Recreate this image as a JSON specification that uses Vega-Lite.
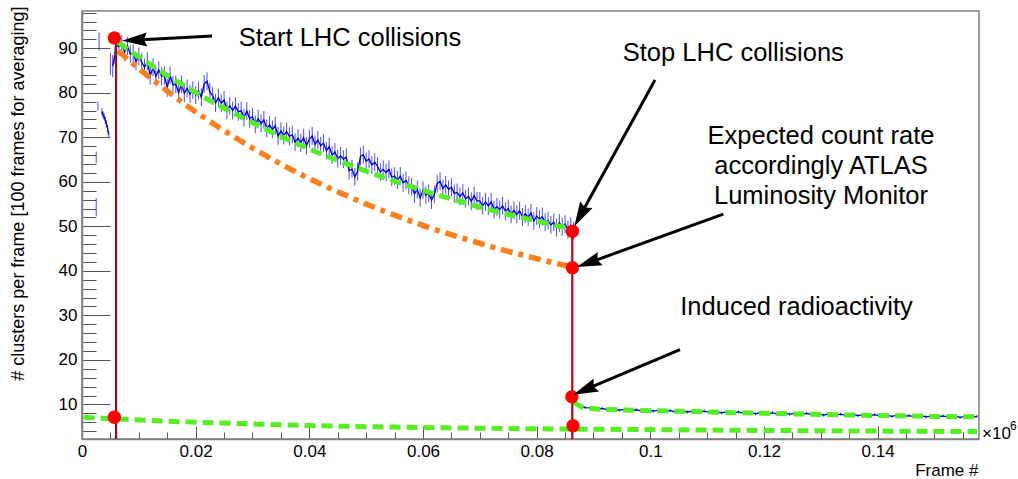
{
  "$schema": "https://vega.github.io/schema/vega-lite/v6.json",
  "width": 897,
  "height": 428,
  "autosize": {"type": "none"},
  "padding": {"left": 82, "top": 11, "right": 39, "bottom": 40},
  "config": {
    "font": "Liberation Sans",
    "view": {"stroke": "#808080", "strokeWidth": 1.5},
    "axis": {"grid": false, "domainColor": "#808080", "domainWidth": 1.5, "tickColor": "#555555", "tickWidth": 1, "labelColor": "#000000", "labelFontSize": 17, "titleFontSize": 18, "titleFontWeight": "normal", "titleColor": "#000000", "labelFlush": false, "labelOverlap": false, "labelBound": false}
  },
  "datasets": {
    "blue": [
      {"x":0.0025,"y":65.5,"e":1.3,"s":"a"},
      {"x":0.0025,"y":54.3,"e":2.0,"s":"b"},
      {"x":0.0030,"y":91.5,"e":2.0,"s":"c"},
      {"x":0.0028,"y":77.0,"e":1.0,"s":"d"},
      {"x":0.0035,"y":75.8,"e":0.8,"s":"e"},
      {"x":0.0037,"y":75.0,"e":0.8,"s":"e"},
      {"x":0.0039,"y":74.6,"e":0.8,"s":"e"},
      {"x":0.0041,"y":73.8,"e":0.8,"s":"e"},
      {"x":0.0043,"y":73.0,"e":0.8,"s":"e"},
      {"x":0.0045,"y":72.0,"e":0.8,"s":"e"},
      {"x":0.0047,"y":70.6,"e":0.8,"s":"e"},
      {"x":0.0050,"y":86.5,"e":2.5,"s":"f"},
      {"x":0.0054,"y":86.0,"e":2.5,"s":"m"},
      {"x":0.0058,"y":88.5,"e":2.0,"s":"m"},
      {"x":0.0060,"y":90.6,"e":2.0,"s":"m"},
      {"x":0.0065,"y":90.4,"e":2.0,"s":"m"},
      {"x":0.0070,"y":91.0,"e":2.0,"s":"m"},
      {"x":0.0075,"y":89.1,"e":2.0,"s":"m"},
      {"x":0.0080,"y":90.5,"e":2.0,"s":"m"},
      {"x":0.0085,"y":88.7,"e":2.0,"s":"m"},
      {"x":0.0090,"y":88.9,"e":2.0,"s":"m"},
      {"x":0.0095,"y":87.0,"e":2.0,"s":"m"},
      {"x":0.0100,"y":88.2,"e":2.0,"s":"m"},
      {"x":0.0105,"y":86.9,"e":2.0,"s":"m"},
      {"x":0.0110,"y":85.7,"e":2.0,"s":"m"},
      {"x":0.0115,"y":87.1,"e":2.0,"s":"m"},
      {"x":0.0120,"y":83.8,"e":2.0,"s":"m"},
      {"x":0.0125,"y":85.7,"e":2.0,"s":"m"},
      {"x":0.0130,"y":83.7,"e":2.0,"s":"m"},
      {"x":0.0135,"y":85.1,"e":2.0,"s":"m"},
      {"x":0.0140,"y":83.7,"e":2.0,"s":"m"},
      {"x":0.0145,"y":83.9,"e":2.0,"s":"m"},
      {"x":0.0150,"y":81.1,"e":2.0,"s":"m"},
      {"x":0.0155,"y":83.9,"e":2.0,"s":"m"},
      {"x":0.0160,"y":81.8,"e":2.0,"s":"m"},
      {"x":0.0165,"y":81.9,"e":2.0,"s":"m"},
      {"x":0.0170,"y":80.0,"e":2.0,"s":"m"},
      {"x":0.0175,"y":81.9,"e":2.0,"s":"m"},
      {"x":0.0180,"y":79.9,"e":2.0,"s":"m"},
      {"x":0.0185,"y":81.0,"e":2.0,"s":"m"},
      {"x":0.0190,"y":79.7,"e":2.0,"s":"m"},
      {"x":0.0195,"y":80.6,"e":2.0,"s":"m"},
      {"x":0.0200,"y":79.5,"e":2.0,"s":"m"},
      {"x":0.0205,"y":80.5,"e":2.0,"s":"m"},
      {"x":0.0210,"y":79.0,"e":2.0,"s":"m"},
      {"x":0.0215,"y":82.0,"e":2.0,"s":"m"},
      {"x":0.0220,"y":82.6,"e":2.0,"s":"m"},
      {"x":0.0225,"y":80.2,"e":2.0,"s":"m"},
      {"x":0.0230,"y":79.3,"e":2.0,"s":"m"},
      {"x":0.0235,"y":77.7,"e":2.0,"s":"m"},
      {"x":0.0240,"y":78.9,"e":2.0,"s":"m"},
      {"x":0.0245,"y":77.6,"e":2.0,"s":"m"},
      {"x":0.0250,"y":78.4,"e":2.0,"s":"m"},
      {"x":0.0255,"y":76.1,"e":2.0,"s":"m"},
      {"x":0.0260,"y":77.1,"e":2.0,"s":"m"},
      {"x":0.0265,"y":76.0,"e":2.0,"s":"m"},
      {"x":0.0270,"y":77.0,"e":2.0,"s":"m"},
      {"x":0.0275,"y":75.7,"e":2.0,"s":"m"},
      {"x":0.0280,"y":76.0,"e":2.0,"s":"m"},
      {"x":0.0285,"y":74.4,"e":2.0,"s":"m"},
      {"x":0.0290,"y":75.9,"e":2.0,"s":"m"},
      {"x":0.0295,"y":74.2,"e":2.0,"s":"m"},
      {"x":0.0300,"y":74.6,"e":2.0,"s":"m"},
      {"x":0.0305,"y":72.9,"e":2.0,"s":"m"},
      {"x":0.0310,"y":74.2,"e":2.0,"s":"m"},
      {"x":0.0315,"y":73.1,"e":2.0,"s":"m"},
      {"x":0.0320,"y":73.9,"e":2.0,"s":"m"},
      {"x":0.0325,"y":72.0,"e":2.0,"s":"m"},
      {"x":0.0330,"y":72.8,"e":2.0,"s":"m"},
      {"x":0.0335,"y":71.8,"e":2.0,"s":"m"},
      {"x":0.0340,"y":72.6,"e":2.0,"s":"m"},
      {"x":0.0345,"y":70.3,"e":2.0,"s":"m"},
      {"x":0.0350,"y":71.4,"e":2.0,"s":"m"},
      {"x":0.0355,"y":70.4,"e":2.0,"s":"m"},
      {"x":0.0360,"y":71.3,"e":2.0,"s":"m"},
      {"x":0.0365,"y":70.2,"e":2.0,"s":"m"},
      {"x":0.0370,"y":70.6,"e":2.0,"s":"m"},
      {"x":0.0375,"y":68.9,"e":2.0,"s":"m"},
      {"x":0.0380,"y":69.8,"e":2.0,"s":"m"},
      {"x":0.0385,"y":68.8,"e":2.0,"s":"m"},
      {"x":0.0390,"y":69.9,"e":2.0,"s":"m"},
      {"x":0.0395,"y":68.1,"e":2.0,"s":"m"},
      {"x":0.0400,"y":69.6,"e":2.0,"s":"m"},
      {"x":0.0405,"y":70.3,"e":2.0,"s":"m"},
      {"x":0.0410,"y":68.4,"e":2.0,"s":"m"},
      {"x":0.0415,"y":69.4,"e":2.0,"s":"m"},
      {"x":0.0420,"y":68.1,"e":2.0,"s":"m"},
      {"x":0.0425,"y":68.7,"e":2.0,"s":"m"},
      {"x":0.0430,"y":67.0,"e":2.0,"s":"m"},
      {"x":0.0435,"y":67.9,"e":2.0,"s":"m"},
      {"x":0.0440,"y":66.0,"e":2.0,"s":"m"},
      {"x":0.0445,"y":66.7,"e":2.0,"s":"m"},
      {"x":0.0450,"y":65.2,"e":2.0,"s":"m"},
      {"x":0.0455,"y":65.8,"e":2.0,"s":"m"},
      {"x":0.0460,"y":65.1,"e":2.0,"s":"m"},
      {"x":0.0465,"y":65.5,"e":2.0,"s":"m"},
      {"x":0.0470,"y":62.5,"e":2.0,"s":"m"},
      {"x":0.0475,"y":62.9,"e":2.0,"s":"m"},
      {"x":0.0480,"y":61.1,"e":2.0,"s":"m"},
      {"x":0.0485,"y":62.3,"e":2.0,"s":"m"},
      {"x":0.0490,"y":65.7,"e":2.0,"s":"m"},
      {"x":0.0495,"y":66.1,"e":2.0,"s":"m"},
      {"x":0.0500,"y":64.6,"e":2.0,"s":"m"},
      {"x":0.0505,"y":65.1,"e":2.0,"s":"m"},
      {"x":0.0510,"y":63.8,"e":2.0,"s":"m"},
      {"x":0.0515,"y":64.4,"e":2.0,"s":"m"},
      {"x":0.0520,"y":63.5,"e":2.0,"s":"m"},
      {"x":0.0525,"y":62.2,"e":2.0,"s":"m"},
      {"x":0.0530,"y":62.8,"e":2.0,"s":"m"},
      {"x":0.0535,"y":62.1,"e":2.0,"s":"m"},
      {"x":0.0540,"y":62.8,"e":2.0,"s":"m"},
      {"x":0.0545,"y":61.0,"e":2.0,"s":"m"},
      {"x":0.0550,"y":61.3,"e":2.0,"s":"m"},
      {"x":0.0555,"y":60.4,"e":2.0,"s":"m"},
      {"x":0.0560,"y":61.3,"e":2.0,"s":"m"},
      {"x":0.0565,"y":59.8,"e":2.0,"s":"m"},
      {"x":0.0570,"y":60.3,"e":2.0,"s":"m"},
      {"x":0.0575,"y":59.2,"e":2.0,"s":"m"},
      {"x":0.0580,"y":58.9,"e":2.0,"s":"m"},
      {"x":0.0585,"y":57.3,"e":2.0,"s":"m"},
      {"x":0.0590,"y":58.3,"e":2.0,"s":"m"},
      {"x":0.0595,"y":56.4,"e":2.0,"s":"m"},
      {"x":0.0600,"y":58.1,"e":2.0,"s":"m"},
      {"x":0.0605,"y":57.0,"e":2.0,"s":"m"},
      {"x":0.0610,"y":57.4,"e":2.0,"s":"m"},
      {"x":0.0615,"y":55.9,"e":2.0,"s":"m"},
      {"x":0.0620,"y":57.2,"e":2.0,"s":"m"},
      {"x":0.0625,"y":59.6,"e":2.0,"s":"m"},
      {"x":0.0630,"y":60.1,"e":2.0,"s":"m"},
      {"x":0.0635,"y":58.5,"e":2.0,"s":"m"},
      {"x":0.0640,"y":59.3,"e":2.0,"s":"m"},
      {"x":0.0645,"y":58.3,"e":2.0,"s":"m"},
      {"x":0.0650,"y":58.8,"e":2.0,"s":"m"},
      {"x":0.0655,"y":57.4,"e":2.0,"s":"m"},
      {"x":0.0660,"y":57.6,"e":2.0,"s":"m"},
      {"x":0.0665,"y":56.7,"e":2.0,"s":"m"},
      {"x":0.0670,"y":57.5,"e":2.0,"s":"m"},
      {"x":0.0675,"y":56.2,"e":2.0,"s":"m"},
      {"x":0.0680,"y":56.7,"e":2.0,"s":"m"},
      {"x":0.0685,"y":55.6,"e":2.0,"s":"m"},
      {"x":0.0690,"y":56.9,"e":2.0,"s":"m"},
      {"x":0.0695,"y":55.7,"e":2.0,"s":"m"},
      {"x":0.0700,"y":55.7,"e":2.0,"s":"m"},
      {"x":0.0705,"y":54.6,"e":2.0,"s":"m"},
      {"x":0.0710,"y":55.5,"e":2.0,"s":"m"},
      {"x":0.0715,"y":54.6,"e":2.0,"s":"m"},
      {"x":0.0720,"y":55.5,"e":2.0,"s":"m"},
      {"x":0.0725,"y":53.8,"e":2.0,"s":"m"},
      {"x":0.0730,"y":54.4,"e":2.0,"s":"m"},
      {"x":0.0735,"y":53.8,"e":2.0,"s":"m"},
      {"x":0.0740,"y":54.6,"e":2.0,"s":"m"},
      {"x":0.0745,"y":53.4,"e":2.0,"s":"m"},
      {"x":0.0750,"y":54.0,"e":2.0,"s":"m"},
      {"x":0.0755,"y":52.7,"e":2.0,"s":"m"},
      {"x":0.0760,"y":53.6,"e":2.0,"s":"m"},
      {"x":0.0765,"y":52.7,"e":2.0,"s":"m"},
      {"x":0.0770,"y":53.5,"e":2.0,"s":"m"},
      {"x":0.0775,"y":52.1,"e":2.0,"s":"m"},
      {"x":0.0780,"y":52.8,"e":2.0,"s":"m"},
      {"x":0.0785,"y":52.0,"e":2.0,"s":"m"},
      {"x":0.0790,"y":53.0,"e":2.0,"s":"m"},
      {"x":0.0795,"y":51.2,"e":2.0,"s":"m"},
      {"x":0.0800,"y":52.3,"e":2.0,"s":"m"},
      {"x":0.0805,"y":51.6,"e":2.0,"s":"m"},
      {"x":0.0810,"y":52.2,"e":2.0,"s":"m"},
      {"x":0.0815,"y":50.9,"e":2.0,"s":"m"},
      {"x":0.0820,"y":51.3,"e":2.0,"s":"m"},
      {"x":0.0825,"y":50.3,"e":2.0,"s":"m"},
      {"x":0.0830,"y":50.9,"e":2.0,"s":"m"},
      {"x":0.0835,"y":49.7,"e":2.0,"s":"m"},
      {"x":0.0840,"y":50.8,"e":2.0,"s":"m"},
      {"x":0.0845,"y":49.9,"e":2.0,"s":"m"},
      {"x":0.0850,"y":50.5,"e":2.0,"s":"m"},
      {"x":0.0855,"y":49.3,"e":2.0,"s":"m"},
      {"x":0.0860,"y":50.0,"e":2.0,"s":"m"},
      {"x":0.0865,"y":49.0,"e":2.0,"s":"m"},
      {"x":0.0868,"y":10.2,"e":0.35,"s":"n"},
      {"x":0.0875,"y":9.8,"e":0.35,"s":"n"},
      {"x":0.0885,"y":9.3,"e":0.35,"s":"n"},
      {"x":0.0895,"y":9.2,"e":0.35,"s":"n"},
      {"x":0.0905,"y":8.9,"e":0.35,"s":"n"},
      {"x":0.0915,"y":9.1,"e":0.35,"s":"n"},
      {"x":0.0925,"y":8.8,"e":0.35,"s":"n"},
      {"x":0.0935,"y":9.0,"e":0.35,"s":"n"},
      {"x":0.0945,"y":8.7,"e":0.35,"s":"n"},
      {"x":0.0955,"y":8.9,"e":0.35,"s":"n"},
      {"x":0.0965,"y":8.6,"e":0.35,"s":"n"},
      {"x":0.0975,"y":8.8,"e":0.35,"s":"n"},
      {"x":0.0985,"y":8.5,"e":0.35,"s":"n"},
      {"x":0.0995,"y":8.8,"e":0.35,"s":"n"},
      {"x":0.1005,"y":8.5,"e":0.35,"s":"n"},
      {"x":0.1015,"y":8.7,"e":0.35,"s":"n"},
      {"x":0.1025,"y":8.4,"e":0.35,"s":"n"},
      {"x":0.1035,"y":8.6,"e":0.35,"s":"n"},
      {"x":0.1045,"y":8.3,"e":0.35,"s":"n"},
      {"x":0.1055,"y":8.6,"e":0.35,"s":"n"},
      {"x":0.1065,"y":8.3,"e":0.35,"s":"n"},
      {"x":0.1075,"y":8.5,"e":0.35,"s":"n"},
      {"x":0.1085,"y":8.2,"e":0.35,"s":"n"},
      {"x":0.1095,"y":8.5,"e":0.35,"s":"n"},
      {"x":0.1105,"y":8.2,"e":0.35,"s":"n"},
      {"x":0.1115,"y":8.4,"e":0.35,"s":"n"},
      {"x":0.1125,"y":8.1,"e":0.35,"s":"n"},
      {"x":0.1135,"y":8.3,"e":0.35,"s":"n"},
      {"x":0.1145,"y":8.0,"e":0.35,"s":"n"},
      {"x":0.1155,"y":8.3,"e":0.35,"s":"n"},
      {"x":0.1165,"y":8.0,"e":0.35,"s":"n"},
      {"x":0.1175,"y":8.2,"e":0.35,"s":"n"},
      {"x":0.1185,"y":7.9,"e":0.35,"s":"n"},
      {"x":0.1195,"y":8.2,"e":0.35,"s":"n"},
      {"x":0.1205,"y":7.9,"e":0.35,"s":"n"},
      {"x":0.1215,"y":8.1,"e":0.35,"s":"n"},
      {"x":0.1225,"y":7.8,"e":0.35,"s":"n"},
      {"x":0.1235,"y":8.1,"e":0.35,"s":"n"},
      {"x":0.1245,"y":7.8,"e":0.35,"s":"n"},
      {"x":0.1255,"y":8.0,"e":0.35,"s":"n"},
      {"x":0.1265,"y":7.7,"e":0.35,"s":"n"},
      {"x":0.1275,"y":8.0,"e":0.35,"s":"n"},
      {"x":0.1285,"y":7.7,"e":0.35,"s":"n"},
      {"x":0.1295,"y":7.9,"e":0.35,"s":"n"},
      {"x":0.1305,"y":7.6,"e":0.35,"s":"n"},
      {"x":0.1315,"y":7.9,"e":0.35,"s":"n"},
      {"x":0.1325,"y":7.6,"e":0.35,"s":"n"},
      {"x":0.1335,"y":7.8,"e":0.35,"s":"n"},
      {"x":0.1345,"y":7.5,"e":0.35,"s":"n"},
      {"x":0.1355,"y":7.8,"e":0.35,"s":"n"},
      {"x":0.1365,"y":7.5,"e":0.35,"s":"n"},
      {"x":0.1375,"y":7.7,"e":0.35,"s":"n"},
      {"x":0.1385,"y":7.4,"e":0.35,"s":"n"},
      {"x":0.1395,"y":7.7,"e":0.35,"s":"n"},
      {"x":0.1405,"y":7.4,"e":0.35,"s":"n"},
      {"x":0.1415,"y":7.6,"e":0.35,"s":"n"},
      {"x":0.1425,"y":7.3,"e":0.35,"s":"n"},
      {"x":0.1435,"y":7.6,"e":0.35,"s":"n"},
      {"x":0.1445,"y":7.3,"e":0.35,"s":"n"},
      {"x":0.1455,"y":7.5,"e":0.35,"s":"n"},
      {"x":0.1465,"y":7.2,"e":0.35,"s":"n"},
      {"x":0.1475,"y":7.5,"e":0.35,"s":"n"},
      {"x":0.1485,"y":7.2,"e":0.35,"s":"n"},
      {"x":0.1495,"y":7.4,"e":0.35,"s":"n"},
      {"x":0.1505,"y":7.2,"e":0.35,"s":"n"},
      {"x":0.1515,"y":7.4,"e":0.35,"s":"n"},
      {"x":0.1525,"y":7.1,"e":0.35,"s":"n"},
      {"x":0.1535,"y":7.4,"e":0.35,"s":"n"},
      {"x":0.1545,"y":7.1,"e":0.35,"s":"n"},
      {"x":0.1555,"y":7.3,"e":0.35,"s":"n"},
      {"x":0.1565,"y":7.1,"e":0.35,"s":"n"},
      {"x":0.1575,"y":7.3,"e":0.35,"s":"n"}
    ],
    "fits": [
      {"x":0.0064,"y":91.3,"c":"top"},{"x":0.008,"y":89.8,"c":"top"},{"x":0.010,"y":88.1,"c":"top"},{"x":0.014,"y":84.7,"c":"top"},{"x":0.018,"y":81.6,"c":"top"},{"x":0.022,"y":78.6,"c":"top"},{"x":0.026,"y":75.9,"c":"top"},{"x":0.030,"y":73.3,"c":"top"},{"x":0.034,"y":70.8,"c":"top"},{"x":0.038,"y":68.5,"c":"top"},{"x":0.042,"y":66.3,"c":"top"},{"x":0.046,"y":64.3,"c":"top"},{"x":0.050,"y":62.4,"c":"top"},{"x":0.054,"y":60.6,"c":"top"},{"x":0.058,"y":58.9,"c":"top"},{"x":0.062,"y":57.3,"c":"top"},{"x":0.066,"y":55.8,"c":"top"},{"x":0.070,"y":54.3,"c":"top"},{"x":0.074,"y":53.0,"c":"top"},{"x":0.078,"y":51.8,"c":"top"},{"x":0.082,"y":50.6,"c":"top"},{"x":0.0858,"y":49.5,"c":"top"},
      {"x":0.0003,"y":7.1,"c":"bottom"},{"x":0.01,"y":6.5,"c":"bottom"},{"x":0.02,"y":6.0,"c":"bottom"},{"x":0.03,"y":5.6,"c":"bottom"},{"x":0.04,"y":5.25,"c":"bottom"},{"x":0.05,"y":5.0,"c":"bottom"},{"x":0.06,"y":4.8,"c":"bottom"},{"x":0.07,"y":4.65,"c":"bottom"},{"x":0.08,"y":4.52,"c":"bottom"},{"x":0.09,"y":4.43,"c":"bottom"},{"x":0.10,"y":4.33,"c":"bottom"},{"x":0.11,"y":4.24,"c":"bottom"},{"x":0.12,"y":4.15,"c":"bottom"},{"x":0.13,"y":4.08,"c":"bottom"},{"x":0.14,"y":4.01,"c":"bottom"},{"x":0.15,"y":3.95,"c":"bottom"},{"x":0.1575,"y":3.9,"c":"bottom"},
      {"x":0.0866,"y":10.6,"c":"after"},{"x":0.0872,"y":9.9,"c":"after"},{"x":0.088,"y":9.4,"c":"after"},{"x":0.090,"y":9.05,"c":"after"},{"x":0.095,"y":8.75,"c":"after"},{"x":0.100,"y":8.6,"c":"after"},{"x":0.105,"y":8.45,"c":"after"},{"x":0.110,"y":8.3,"c":"after"},{"x":0.115,"y":8.15,"c":"after"},{"x":0.120,"y":8.0,"c":"after"},{"x":0.125,"y":7.87,"c":"after"},{"x":0.130,"y":7.75,"c":"after"},{"x":0.135,"y":7.62,"c":"after"},{"x":0.140,"y":7.5,"c":"after"},{"x":0.145,"y":7.4,"c":"after"},{"x":0.150,"y":7.3,"c":"after"},{"x":0.1575,"y":7.2,"c":"after"},
      {"x":0.0064,"y":89.4,"c":"expected"},{"x":0.010,"y":85.4,"c":"expected"},{"x":0.014,"y":81.4,"c":"expected"},{"x":0.018,"y":77.5,"c":"expected"},{"x":0.022,"y":74.0,"c":"expected"},{"x":0.026,"y":70.7,"c":"expected"},{"x":0.030,"y":67.6,"c":"expected"},{"x":0.034,"y":64.7,"c":"expected"},{"x":0.038,"y":62.0,"c":"expected"},{"x":0.042,"y":59.5,"c":"expected"},{"x":0.046,"y":57.2,"c":"expected"},{"x":0.050,"y":55.0,"c":"expected"},{"x":0.054,"y":53.0,"c":"expected"},{"x":0.058,"y":51.1,"c":"expected"},{"x":0.062,"y":49.3,"c":"expected"},{"x":0.066,"y":47.7,"c":"expected"},{"x":0.070,"y":46.2,"c":"expected"},{"x":0.074,"y":44.7,"c":"expected"},{"x":0.078,"y":43.4,"c":"expected"},{"x":0.082,"y":42.1,"c":"expected"},{"x":0.0862,"y":40.9,"c":"expected"}
    ],
    "vlines": [
      {"x":0.0060,"y":2.23,"y2":91.0},
      {"x":0.08627,"y":2.23,"y2":49.0}
    ],
    "dots": [
      {"x":0.0057,"y":92.3},{"x":0.0057,"y":7.1},{"x":0.0863,"y":48.9},{"x":0.0863,"y":40.7},{"x":0.0862,"y":11.7},{"x":0.0864,"y":5.2}
    ],
    "arrows": [
      {"name":"start","xt":0.02287,"yt":92.76,"xb":0.01056,"yb":91.93,"x":0.00704,"y":91.7},
      {"name":"stop","xt":0.10082,"yt":82.88,"xb":0.08831,"yb":53.88,"x":0.08662,"y":49.95},
      {"name":"expected","xt":0.11284,"yt":52.74,"xb":0.09035,"yb":42.37,"x":0.08704,"y":40.84},
      {"name":"induced","xt":0.10522,"yt":22.28,"xb":0.08968,"yb":13.93,"x":0.08645,"y":12.18}
    ],
    "labels": [
      {"x":0.04715,"y":92.31,"t":"Start LHC collisions"},
      {"x":0.11460,"y":89.01,"t":"Stop LHC collisions"},
      {"x":0.13003,"y":70.31,"t":"Expected count rate"},
      {"x":0.13003,"y":63.58,"t":"accordingly ATLAS"},
      {"x":0.13003,"y":56.85,"t":"Luminosity Monitor"},
      {"x":0.12572,"y":31.93,"t":"Induced radioactivity"}
    ],
    "exponent": [
      {"x":0.15783,"y":2.23,"t":"×10","k":"base"},
      {"x":0.15783,"y":2.23,"t":"6","k":"sup"}
    ]
  },
  "encoding": {
    "x": {"field": "x", "type": "quantitative", "scale": {"domain": [0, 0.15783], "nice": false, "zero": false},
      "axis": {
        "values": [0,0.005,0.01,0.015,0.02,0.025,0.03,0.035,0.04,0.045,0.05,0.055,0.06,0.065,0.07,0.075,0.08,0.085,0.09,0.095,0.1,0.105,0.11,0.115,0.12,0.125,0.13,0.135,0.14,0.145,0.15,0.155],
        "labelExpr": "abs(datum.value*50 - round(datum.value*50)) < 1e-6 ? format(datum.value, '.2~f') : ''",
        "tickSize": {"condition": {"test": "abs(datum.value*50 - round(datum.value*50)) < 1e-6", "value": -13}, "value": -7},
        "labelPadding": 17,
        "title": "Frame #", "titleFontSize": 17, "titleX": 896, "titleY": 31, "titleAlign": "right", "titleBaseline": "middle", "titleAnchor": "end"
      }
    },
    "y": {"field": "y", "type": "quantitative", "scale": {"domain": [2.23, 98.37], "nice": false, "zero": false},
      "axis": {
        "values": [4,6,8,10,12,14,16,18,20,22,24,26,28,30,32,34,36,38,40,42,44,46,48,50,52,54,56,58,60,62,64,66,68,70,72,74,76,78,80,82,84,86,88,90,92,94,96,98],
        "labelExpr": "datum.value % 10 === 0 ? datum.label : ''",
        "tickSize": {"condition": {"test": "datum.value % 10 === 0", "value": -28}, "value": -14},
        "labelPadding": 33,
        "title": "# clusters per frame [100 frames for averaging]", "titleX": -64, "titleY": -5, "titleAlign": "right", "titleAngle": 270, "titleBaseline": "middle", "titleAnchor": "end"
      }
    }
  },
  "layer": [
    {"data": {"name": "blue"}, "mark": {"type": "errorbar", "color": "#1010ff", "opacity": 0.75, "thickness": 1},
     "encoding": {"yError": {"field": "e"}}},
    {"data": {"name": "blue"}, "mark": {"type": "line", "color": "#0000cc", "strokeWidth": 1.3},
     "encoding": {"detail": {"field": "s", "type": "nominal"}}},
    {"data": {"name": "fits"}, "transform": [{"filter": "datum.c !== 'expected'"}],
     "mark": {"type": "line", "color": "#55ee22", "strokeWidth": 5, "strokeDash": [11, 6], "interpolate": "monotone"},
     "encoding": {"detail": {"field": "c", "type": "nominal"}}},
    {"data": {"name": "fits"}, "transform": [{"filter": "datum.c === 'expected'"}],
     "mark": {"type": "line", "color": "#ff7f1f", "strokeWidth": 5.5, "strokeDash": [12, 6, 5, 6], "interpolate": "monotone"},
     "encoding": {}},
    {"data": {"name": "vlines"}, "mark": {"type": "rule", "color": "#a01010", "strokeWidth": 2.2},
     "encoding": {"y2": {"field": "y2"}}},
    {"data": {"name": "dots"}, "mark": {"type": "point", "shape": "circle", "filled": true, "color": "#ff0000", "opacity": 1, "size": 180},
     "encoding": {}},
    {"data": {"name": "arrows"}, "mark": {"type": "rule", "color": "#000000", "strokeWidth": 3},
     "encoding": {"x": {"field": "xt", "type": "quantitative"}, "y": {"field": "yt", "type": "quantitative"}, "x2": {"field": "xb"}, "y2": {"field": "yb"}}},
    {"data": {"name": "arrows"}, "transform": [{"filter": "datum.name === 'start'"}],
     "mark": {"type": "point", "shape": "M0,0L-0.56,2L0,1.75L0.56,2Z", "filled": true, "color": "#000000", "opacity": 1, "size": 625, "angle": 267, "strokeWidth": 0}, "encoding": {}},
    {"data": {"name": "arrows"}, "transform": [{"filter": "datum.name === 'stop'"}],
     "mark": {"type": "point", "shape": "M0,0L-0.56,2L0,1.75L0.56,2Z", "filled": true, "color": "#000000", "opacity": 1, "size": 625, "angle": 208.8, "strokeWidth": 0}, "encoding": {}},
    {"data": {"name": "arrows"}, "transform": [{"filter": "datum.name === 'expected'"}],
     "mark": {"type": "point", "shape": "M0,0L-0.56,2L0,1.75L0.56,2Z", "filled": true, "color": "#000000", "opacity": 1, "size": 625, "angle": 250.1, "strokeWidth": 0}, "encoding": {}},
    {"data": {"name": "arrows"}, "transform": [{"filter": "datum.name === 'induced'"}],
     "mark": {"type": "point", "shape": "M0,0L-0.56,2L0,1.75L0.56,2Z", "filled": true, "color": "#000000", "opacity": 1, "size": 625, "angle": 247.1, "strokeWidth": 0}, "encoding": {}},
    {"data": {"name": "labels"}, "mark": {"type": "text", "fontSize": 25.5, "align": "center", "baseline": "middle", "color": "#000000"},
     "encoding": {"text": {"field": "t"}}},
    {"data": {"name": "exponent"}, "transform": [{"filter": "datum.k === 'base'"}],
     "mark": {"type": "text", "fontSize": 17, "align": "left", "baseline": "middle", "dx": 3, "dy": -5, "color": "#000000"},
     "encoding": {"text": {"field": "t"}}},
    {"data": {"name": "exponent"}, "transform": [{"filter": "datum.k === 'sup'"}],
     "mark": {"type": "text", "fontSize": 12, "align": "left", "baseline": "middle", "dx": 31, "dy": -13, "color": "#000000"},
     "encoding": {"text": {"field": "t"}}}
  ]
}
